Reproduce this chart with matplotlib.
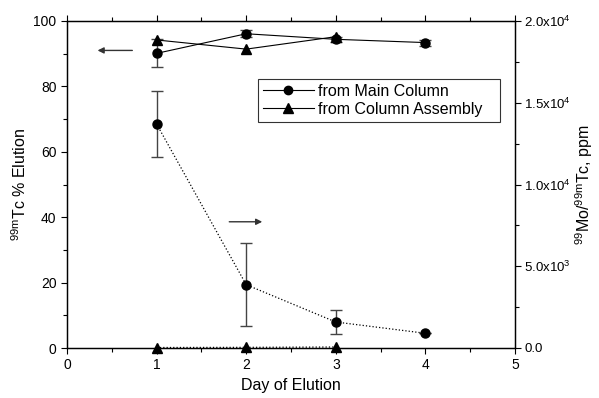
import numpy as np
import matplotlib
matplotlib.use("Agg")
import matplotlib.pyplot as plt
from matplotlib.ticker import MultipleLocator, FixedLocator

plt.rcParams['font.family'] = ['Liberation Sans', 'DejaVu Sans']
plt.rcParams['mathtext.fontset'] = 'custom'
plt.rcParams['mathtext.rm'] = 'Liberation Sans'
plt.rcParams['mathtext.it'] = 'Liberation Sans'

# percent elution (left axis)
days_main = [1, 2, 3, 4]
elution_main = [90.1, 96.1, 94.4, 93.4]
elution_main_err = [4.3, 1.0, 0.8, 0.9]
days_assembly = [1, 2, 3]
elution_assembly = [94.2, 91.4, 95.2]

# Mo/Tc ratio, ppm (right axis)
ratio_main = [13700, 3870, 1590, 900]
ratio_main_err = [2000, 2550, 720, 0]
ratio_assembly = [30, 40, 60]

right_ticks = [0, 5000, 10000, 15000, 20000]
right_labels = ['0.0', r'5.0x10$^{3}$', r'1.0x10$^{4}$', r'1.5x10$^{4}$', r'2.0x10$^{4}$']

fig = plt.figure(figsize=(5.99, 3.98), dpi=100)
ax = fig.add_axes([67 / 599, 1 - 348 / 398, 448 / 599, 327 / 398])
ax2 = ax.twinx()

ecol = '#444444'
ax.errorbar(days_main, elution_main, yerr=elution_main_err, fmt='-o', color='black',
            ms=6.5, lw=0.8, ecolor=ecol, elinewidth=1.0, capsize=4, capthick=1.0, zorder=3)
ax.plot(days_assembly, elution_assembly, '-^', color='black', ms=7, lw=0.8, zorder=3)

ax2.errorbar(days_main, ratio_main, yerr=ratio_main_err, fmt='o', color='black',
             ms=6.5, ecolor=ecol, elinewidth=1.0, capsize=4, capthick=1.0, zorder=3)
ax2.plot(days_main, ratio_main, ':', color='black', lw=0.9, zorder=2)
ax2.plot(days_assembly, ratio_assembly, '^', color='black', ms=7, zorder=3, clip_on=False)
ax2.plot(days_assembly, ratio_assembly, ':', color='black', lw=0.9, zorder=2)

ax.set_xlim(0, 5)
ax.set_ylim(0, 100)
ax2.set_ylim(0, 20000)

ax.xaxis.set_major_locator(MultipleLocator(1))
ax.xaxis.set_minor_locator(MultipleLocator(0.5))
ax.yaxis.set_major_locator(MultipleLocator(20))
ax.yaxis.set_minor_locator(MultipleLocator(10))
ax2.yaxis.set_major_locator(FixedLocator(right_ticks))
ax2.yaxis.set_minor_locator(MultipleLocator(2500))
ax2.set_yticklabels(right_labels)

ax.tick_params(axis='both', which='major', direction='out', length=4, width=0.8, labelsize=10)
ax.tick_params(axis='both', which='minor', direction='out', length=3, width=0.8)
ax.tick_params(axis='x', which='both', top=True, labeltop=False)
ax2.tick_params(axis='y', which='major', direction='out', length=4, width=0.8, labelsize=9.5, pad=2.5)
ax2.tick_params(axis='y', which='minor', direction='out', length=3, width=0.8)

for a in (ax, ax2):
    for s in a.spines.values():
        s.set_linewidth(0.9)

ax.set_xlabel('Day of Elution', fontsize=11.5, labelpad=4)
ax.set_ylabel(r'$^{99m}$Tc % Elution', fontsize=11.5)
ax.yaxis.set_label_coords(-(67 - 29) / 448, 0.5)
ax2.set_ylabel(r'$^{99}$Mo/$^{99m}$Tc, ppm', fontsize=11.5)
ax2.yaxis.set_label_coords(1 + (573 - 515) / 448, 0.5)

# arrows pointing to the axis each series belongs to
ax.annotate('', xy=(0.31, 91), xytext=(0.76, 91),
            arrowprops=dict(arrowstyle='-|>', color='#333333', lw=1.0, mutation_scale=9))
ax.annotate('', xy=(2.21, 38.6), xytext=(1.78, 38.6),
            arrowprops=dict(arrowstyle='-|>', color='#333333', lw=1.0, mutation_scale=9))

h1 = plt.Line2D([], [], color='black', marker='o', ms=6, lw=0.8)
h2 = plt.Line2D([], [], color='black', marker='^', ms=6.5, lw=0.8)
leg = ax.legend([h1, h2], ['from Main Column', 'from Column Assembly'],
                loc='upper left', bbox_to_anchor=((258 - 67) / 448, 1 - (79 - 21) / 327, 242 / 448, 0),
                mode='expand', borderaxespad=0,
                fontsize=11.5, frameon=True, fancybox=False, edgecolor='black',
                borderpad=0.3, handlelength=3.2, handletextpad=0.25, labelspacing=0.2)
leg.get_frame().set_linewidth(0.8)

fig.savefig('out.png', dpi=100)
